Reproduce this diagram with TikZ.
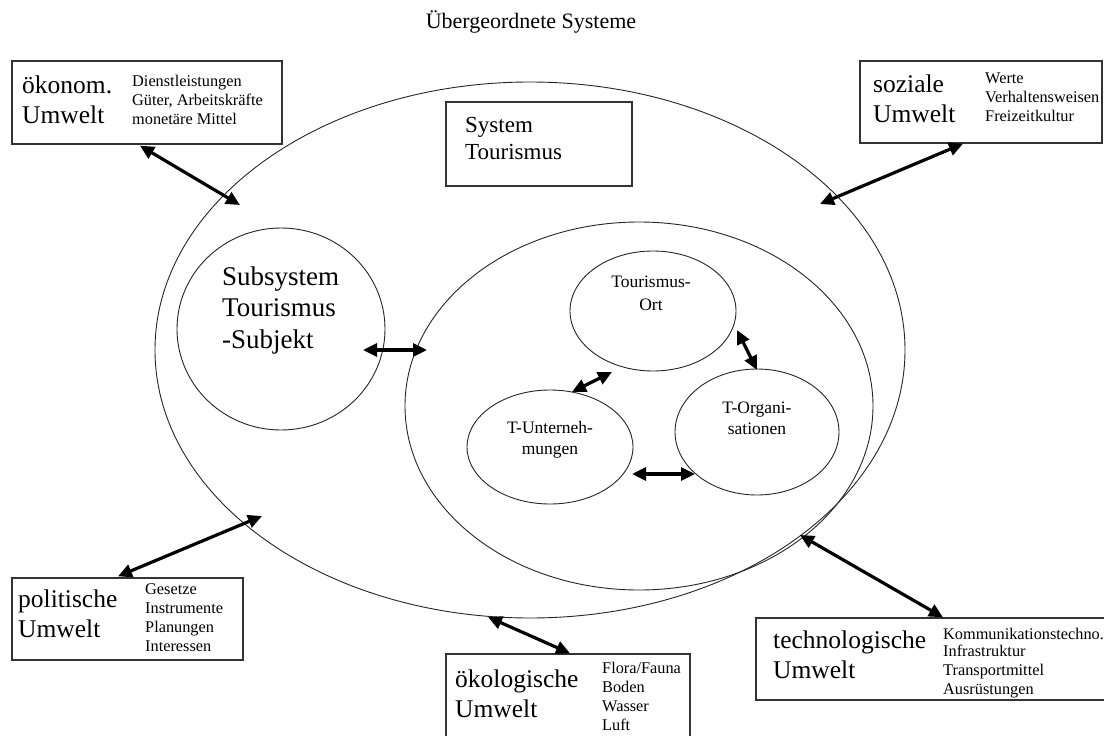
\documentclass[tikz,border=0pt]{standalone}
\usepackage{fontspec}
\setmainfont{Liberation Serif}
\usetikzlibrary{shapes.geometric,arrows.meta,calc}
% stacked lines, baseline on the first line
\newcommand\lstack[1]{\begin{tabular}[t]{@{}l@{}}#1\end{tabular}}
\newcommand\cstack[1]{\begin{tabular}[t]{@{}c@{}}#1\end{tabular}}
\tikzset{
  envbox/.style={draw=black!80, line width=1.4pt, rectangle, inner sep=0pt},
  ring/.style={draw=black!85, line width=0.9pt, ellipse, inner sep=0pt},
  headtext/.style={font=\fontsize{25.5}{30.5}\selectfont, anchor=base west, inner sep=0pt},
  listtext/.style={font=\fontsize{16.3}{19.2}\selectfont, anchor=base west, inner sep=0pt},
  link/.style={{Triangle[length=14pt,width=13pt]}-{Triangle[length=14pt,width=13pt]}, line width=3.2pt, black},
}
\begin{document}
\begin{tikzpicture}[x=1pt,y=-1pt]
\fill[white] (0,0) rectangle (1104,736);
\useasboundingbox (0,0) rectangle (1104,736);

% title
\node[anchor=base, inner sep=0pt, font=\fontsize{22}{26}\selectfont] (title) at (531,28) {Übergeordnete Systeme};

% system rings
\node[ring, minimum width=750pt, minimum height=536pt] (big) at (530,350) {};
\node[ring, minimum width=468pt, minimum height=368pt] (inner) at (639,406) {};
\node[ring, minimum width=208pt, minimum height=202pt] (sub) at (281,329) {};
\node[ring, minimum width=166pt, minimum height=120pt] (ort) at (653,311) {};
\node[ring, minimum width=166pt, minimum height=114pt] (unt) at (550,447) {};
\node[ring, minimum width=164pt, minimum height=126pt] (org) at (757,432) {};

% system box
\node[envbox, minimum width=186pt, minimum height=84pt] (sys) at (539,144) {};
\node[anchor=base west, inner sep=0pt, font=\fontsize{23}{27.5}\selectfont] (sysT) at (465,132) {\lstack{System\\Tourismus}};

% ring texts
\node[anchor=base west, inner sep=0pt, font=\fontsize{27}{31.5}\selectfont] (subT) at (222,285) {\lstack{Subsystem\\Tourismus\\-Subjekt}};
\node[anchor=base, inner sep=0pt, font=\fontsize{17.5}{23}\selectfont] (ortT) at (651,287) {\cstack{Tourismus-\\Ort}};
\node[anchor=base, inner sep=0pt, font=\fontsize{17.5}{21.5}\selectfont] (untT) at (550,433) {\cstack{T-Unterneh-\\mungen}};
\node[anchor=base, inner sep=0pt, font=\fontsize{17.5}{21}\selectfont] (orgT) at (757,413) {\cstack{T-Organi-\\sationen}};

% environment boxes
\node[envbox, minimum width=270pt, minimum height=83pt] (oek) at (147,102.5) {};
\node[headtext] (oekH) at (22,93) {\lstack{ökonom.\\Umwelt}};
\node[listtext] (oekL) at (132,86) {\lstack{Dienstleistungen\\Güter, Arbeitskräfte\\monetäre Mittel}};

\node[envbox, minimum width=242pt, minimum height=82pt] (soz) at (981,102) {};
\node[headtext] (sozH) at (873,92) {\lstack{soziale\\Umwelt}};
\node[listtext] (sozL) at (985,83) {\lstack{Werte\\Verhaltensweisen\\Freizeitkultur}};

\node[envbox, minimum width=231pt, minimum height=82pt] (pol) at (127.5,619) {};
\node[headtext] (polH) at (18,607) {\lstack{politische\\Umwelt}};
\node[listtext] (polL) at (145,594) {\lstack{Gesetze\\Instrumente\\Planungen\\Interessen}};

\node[envbox, minimum width=244pt, minimum height=90pt] (oeko) at (568,699) {};
\node[headtext] (oekoH) at (455,687) {\lstack{ökologische\\Umwelt}};
\node[listtext] (oekoL) at (602,673) {\lstack{Flora/Fauna\\Boden\\Wasser\\Luft}};

\node[envbox, minimum width=356pt, minimum height=82pt] (tech) at (934,659) {};
\node[headtext] (techH) at (773,648) {\lstack{technologische\\Umwelt}};
\node[listtext] (techK) at (943,639.5) {Kommunikationstechno.};
\node[listtext] (techL) at (943,656) {\lstack{Infrastruktur\\Transportmittel\\Ausrüstungen}};

% interactions
\draw[link] ($(oek.south)+(-7,1)$) -- ($(big.center)+(-290,-145)$);
\draw[link] ($(soz.south)+(-18,0)$) -- ($(big.center)+(290,-146)$);
\draw[link] ($(pol.north)+(-9.5,-1)$) -- ($(big.center)+(-268,166)$);
\draw[link] ($(oeko.north)+(2,0)$) -- ($(big.center)+(-42,267)$);
\draw[link] ($(tech.north)+(9,0)$) -- ($(big.center)+(270,185)$);
\draw[link] ($(sub.center)+(82,21)$) -- ($(inner.center)+(-212,-56)$);
\draw[link] ($(ort.center)+(84,19)$) -- ($(org.center)+(0,-62)$);
\draw[link] ($(unt.center)+(22,-55)$) -- ($(ort.center)+(-41,61)$);
\draw[link] ($(unt.center)+(82,27)$) -- ($(org.center)+(-62,42)$);
\end{tikzpicture}
\end{document}
